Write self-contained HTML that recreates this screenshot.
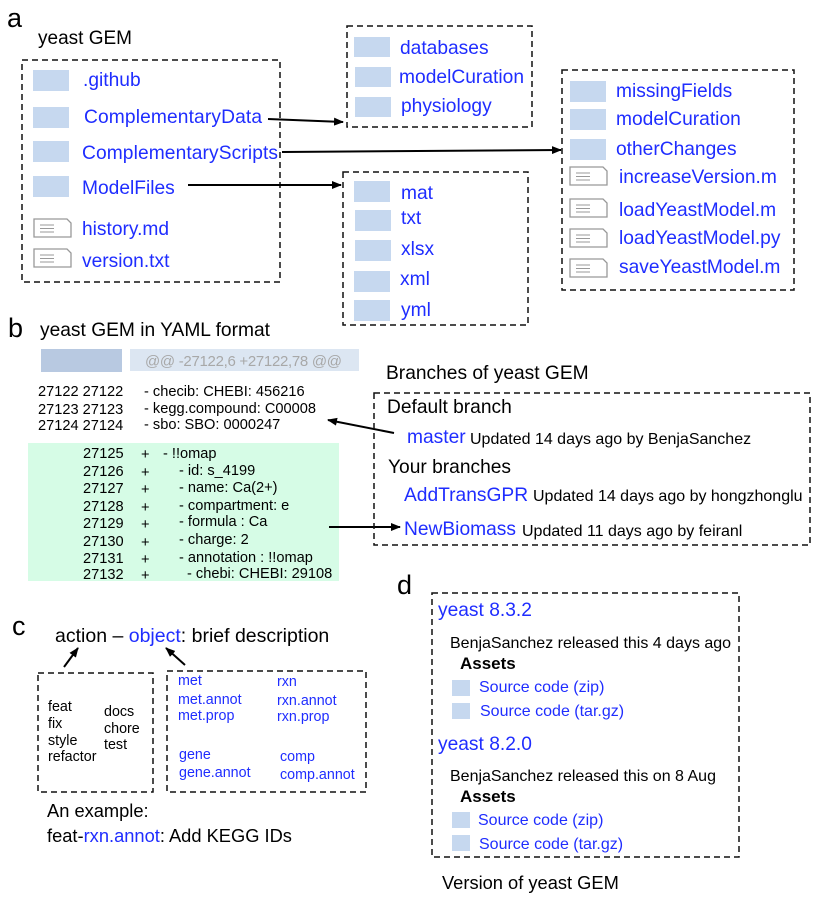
<!DOCTYPE html>
<html><head><meta charset="utf-8"><style>
html,body{margin:0;padding:0;background:#fff}
svg{display:block}
text{font-family:"Liberation Sans",Arial,sans-serif}
.b{fill:#1f2dff}
.k{fill:#000}
.box{fill:none;stroke:#111;stroke-width:1.5;stroke-dasharray:6,4}
.f{fill:#c6d8ef}
.fi{fill:#fff;stroke:#999;stroke-width:1.3}
.fl{stroke:#999;stroke-width:1}
.ar{stroke:#000;stroke-width:2;fill:none}
</style></head><body>
<svg width="822" height="897" viewBox="0 0 822 897" xmlns="http://www.w3.org/2000/svg">
<defs><marker id="ah" markerWidth="10" markerHeight="8" refX="9" refY="4" orient="auto" markerUnits="userSpaceOnUse"><path d="M0,0 L10,4 L0,8 z" fill="#000"/></marker></defs>

<!-- panel a -->
<text x="7" y="27" font-size="27" class="k">a</text>
<text x="38" y="44" font-size="19" class="k">yeast GEM</text>
<rect class="box" x="22" y="60" width="258" height="222"/>
<rect class="f" x="33" y="70" width="36" height="21"/><text x="83" y="86" font-size="19.2" class="b">.github</text>
<rect class="f" x="33" y="107" width="36" height="21"/><text x="84" y="123" font-size="19.2" class="b" textLength="178">ComplementaryData</text>
<rect class="f" x="33" y="141" width="36" height="21"/><text x="82" y="159" font-size="19.2" class="b" textLength="196">ComplementaryScripts</text>
<rect class="f" x="33" y="176" width="36" height="21"/><text x="82" y="194" font-size="19.2" class="b">ModelFiles</text>
<g transform="translate(34,219)"><path class="fi" d="M0,0 H33 L37,4 V18 H0 Z"/><line class="fl" x1="6" y1="6" x2="20" y2="6"/><line class="fl" x1="6" y1="9.5" x2="20" y2="9.5"/><line class="fl" x1="6" y1="13" x2="20" y2="13"/></g>
<text x="82" y="235" font-size="19.2" class="b">history.md</text>
<g transform="translate(34,249)"><path class="fi" d="M0,0 H33 L37,4 V18 H0 Z"/><line class="fl" x1="6" y1="6" x2="20" y2="6"/><line class="fl" x1="6" y1="9.5" x2="20" y2="9.5"/><line class="fl" x1="6" y1="13" x2="20" y2="13"/></g>
<text x="82" y="267" font-size="19.2" class="b">version.txt</text>

<line class="ar" x1="268" y1="119" x2="343" y2="122" marker-end="url(#ah)"/>
<line class="ar" x1="282" y1="152" x2="561" y2="150" marker-end="url(#ah)"/>
<line class="ar" x1="188" y1="185" x2="341" y2="185" marker-end="url(#ah)"/>

<rect class="box" x="347" y="26" width="185" height="101"/>
<rect class="f" x="354" y="37" width="36" height="20"/><text x="400" y="54" font-size="19.2" class="b">databases</text>
<rect class="f" x="355" y="67" width="36" height="20"/><text x="399" y="83" font-size="19.2" class="b" textLength="125">modelCuration</text>
<rect class="f" x="355" y="97" width="36" height="20"/><text x="401" y="112" font-size="19.2" class="b">physiology</text>

<rect class="box" x="343" y="172" width="185" height="153"/>
<rect class="f" x="354" y="181" width="36" height="21"/><text x="401" y="199" font-size="19.2" class="b">mat</text>
<rect class="f" x="355" y="210" width="36" height="21"/><text x="401" y="224" font-size="19.2" class="b">txt</text>
<rect class="f" x="355" y="240" width="36" height="21"/><text x="401" y="255" font-size="19.2" class="b">xlsx</text>
<rect class="f" x="354" y="271" width="36" height="21"/><text x="400" y="285" font-size="19.2" class="b">xml</text>
<rect class="f" x="354" y="300" width="36" height="21"/><text x="401" y="316" font-size="19.2" class="b">yml</text>

<rect class="box" x="562" y="70" width="232" height="220"/>
<rect class="f" x="570" y="81" width="36" height="21"/><text x="616" y="97" font-size="19.2" class="b">missingFields</text>
<rect class="f" x="570" y="109" width="36" height="21"/><text x="616" y="125" font-size="19.2" class="b">modelCuration</text>
<rect class="f" x="570" y="139" width="36" height="21"/><text x="616" y="155" font-size="19.2" class="b">otherChanges</text>
<g transform="translate(570,167)"><path class="fi" d="M0,0 H33 L37,4 V18 H0 Z"/><line class="fl" x1="6" y1="6" x2="20" y2="6"/><line class="fl" x1="6" y1="9.5" x2="20" y2="9.5"/><line class="fl" x1="6" y1="13" x2="20" y2="13"/></g>
<text x="619" y="183" font-size="19.2" class="b">increaseVersion.m</text>
<g transform="translate(570,199)"><path class="fi" d="M0,0 H33 L37,4 V18 H0 Z"/><line class="fl" x1="6" y1="6" x2="20" y2="6"/><line class="fl" x1="6" y1="9.5" x2="20" y2="9.5"/><line class="fl" x1="6" y1="13" x2="20" y2="13"/></g>
<text x="619" y="216" font-size="19.2" class="b">loadYeastModel.m</text>
<g transform="translate(570,229)"><path class="fi" d="M0,0 H33 L37,4 V18 H0 Z"/><line class="fl" x1="6" y1="6" x2="20" y2="6"/><line class="fl" x1="6" y1="9.5" x2="20" y2="9.5"/><line class="fl" x1="6" y1="13" x2="20" y2="13"/></g>
<text x="619" y="244" font-size="19.2" class="b">loadYeastModel.py</text>
<g transform="translate(570,259)"><path class="fi" d="M0,0 H33 L37,4 V18 H0 Z"/><line class="fl" x1="6" y1="6" x2="20" y2="6"/><line class="fl" x1="6" y1="9.5" x2="20" y2="9.5"/><line class="fl" x1="6" y1="13" x2="20" y2="13"/></g>
<text x="619" y="273" font-size="19.2" class="b">saveYeastModel.m</text>

<!-- panel b -->
<text x="8" y="337" font-size="27" class="k">b</text>
<text x="40" y="336" font-size="19.2" class="k">yeast GEM in YAML format</text>
<rect x="41" y="349" width="81" height="23" fill="#b8c9e1"/>
<rect x="130" y="349" width="229" height="22" fill="#dce6f2"/>
<text x="145" y="366" font-size="15" fill="#a8a8a8" textLength="197">@@ -27122,6 +27122,78 @@</text>
<g font-size="14.6" class="k">
<text x="38" y="396">27122 27122</text><text x="144" y="396">- checib: CHEBI: 456216</text>
<text x="38" y="414">27123 27123</text><text x="144" y="413">- kegg.compound: C00008</text>
<text x="38" y="430">27124 27124</text><text x="144" y="429">- sbo: SBO: 0000247</text>
</g>
<rect x="28" y="443" width="311" height="138" fill="#d6fce6"/>
<g font-size="14.6" class="k">
<text x="83" y="458">27125</text><text x="141" y="459">+</text><text x="163" y="458">-  !!omap</text>
<text x="83" y="476">27126</text><text x="141" y="477">+</text><text x="179" y="475">- id: s_4199</text>
<text x="83" y="493">27127</text><text x="141" y="494">+</text><text x="179" y="492">- name:  Ca(2+)</text>
<text x="83" y="511">27128</text><text x="141" y="512">+</text><text x="179" y="510">- compartment: e</text>
<text x="83" y="528">27129</text><text x="141" y="529">+</text><text x="179" y="526">- formula : Ca</text>
<text x="83" y="546">27130</text><text x="141" y="547">+</text><text x="179" y="544">- charge: 2</text>
<text x="83" y="563">27131</text><text x="141" y="564">+</text><text x="179" y="562">- annotation :  !!omap</text>
<text x="83" y="579">27132</text><text x="141" y="580">+</text><text x="187" y="578">-  chebi: CHEBI: 29108</text>
</g>
<line class="ar" x1="394" y1="433" x2="328" y2="420" marker-end="url(#ah)"/>
<line class="ar" x1="329" y1="527" x2="400" y2="527" marker-end="url(#ah)"/>

<text x="386" y="379" font-size="19.2" class="k">Branches of yeast GEM</text>
<rect class="box" x="374" y="393" width="436" height="152"/>
<text x="387" y="413" font-size="19.2" class="k">Default branch</text>
<text x="407" y="443" font-size="19.2" class="b">master</text><text x="470" y="444" font-size="16" class="k">Updated 14 days ago by BenjaSanchez</text>
<text x="388" y="473" font-size="19.2" class="k">Your branches</text>
<text x="404" y="501" font-size="19.2" class="b">AddTransGPR</text><text x="533" y="501" font-size="16" class="k">Updated 14 days ago by hongzhonglu</text>
<text x="404" y="535" font-size="19.2" class="b">NewBiomass</text><text x="522" y="536" font-size="16" class="k">Updated 11 days ago by feiranl</text>

<!-- panel c -->
<text x="12" y="635" font-size="27" class="k">c</text>
<text x="55" y="642" font-size="19.5" class="k">action – <tspan class="b">object</tspan>: brief description</text>
<line class="ar" x1="64" y1="667" x2="78" y2="648" marker-end="url(#ah)"/>
<line class="ar" x1="185" y1="665" x2="166" y2="648" marker-end="url(#ah)"/>
<rect class="box" x="38" y="673" width="115" height="119"/>
<g font-size="14.3" class="k">
<text x="48" y="711">feat</text><text x="48" y="728">fix</text><text x="48" y="745">style</text><text x="48" y="761">refactor</text>
<text x="104" y="716">docs</text><text x="104" y="733">chore</text><text x="104" y="749">test</text>
</g>
<rect class="box" x="167" y="671" width="199" height="121"/>
<g font-size="14.3" class="b">
<text x="178" y="685">met</text><text x="178" y="704">met.annot</text><text x="178" y="720">met.prop</text>
<text x="277" y="686">rxn</text><text x="277" y="705">rxn.annot</text><text x="277" y="721">rxn.prop</text>
<text x="179" y="759">gene</text><text x="179" y="777">gene.annot</text>
<text x="280" y="761">comp</text><text x="280" y="779">comp.annot</text>
</g>
<text x="47" y="817" font-size="18.3" class="k">An example:</text>
<text x="47" y="842" font-size="18.3" class="k">feat-<tspan class="b">rxn.annot</tspan>: Add KEGG IDs</text>

<!-- panel d -->
<text x="397" y="594" font-size="27" class="k">d</text>
<rect class="box" x="432" y="593" width="307" height="264"/>
<text x="438" y="616" font-size="19.2" class="b">yeast 8.3.2</text>
<text x="450" y="648" font-size="16" class="k">BenjaSanchez released this 4 days ago</text>
<text x="460" y="669" font-size="17" font-weight="bold" class="k">Assets</text>
<rect class="f" x="452" y="680" width="18" height="16"/><text x="479" y="692" font-size="16" class="b">Source code (zip)</text>
<rect class="f" x="452" y="703" width="18" height="16"/><text x="480" y="716" font-size="16" class="b">Source code (tar.gz)</text>
<text x="438" y="750" font-size="19.2" class="b">yeast 8.2.0</text>
<text x="450" y="781" font-size="16" class="k">BenjaSanchez released this on 8 Aug</text>
<text x="460" y="802" font-size="17" font-weight="bold" class="k">Assets</text>
<rect class="f" x="452" y="812" width="18" height="16"/><text x="478" y="825" font-size="16" class="b">Source code (zip)</text>
<rect class="f" x="452" y="835" width="18" height="16"/><text x="479" y="849" font-size="16" class="b">Source code (tar.gz)</text>
<text x="442" y="889" font-size="18.3" class="k">Version of yeast GEM</text>
</svg>
</body></html>
